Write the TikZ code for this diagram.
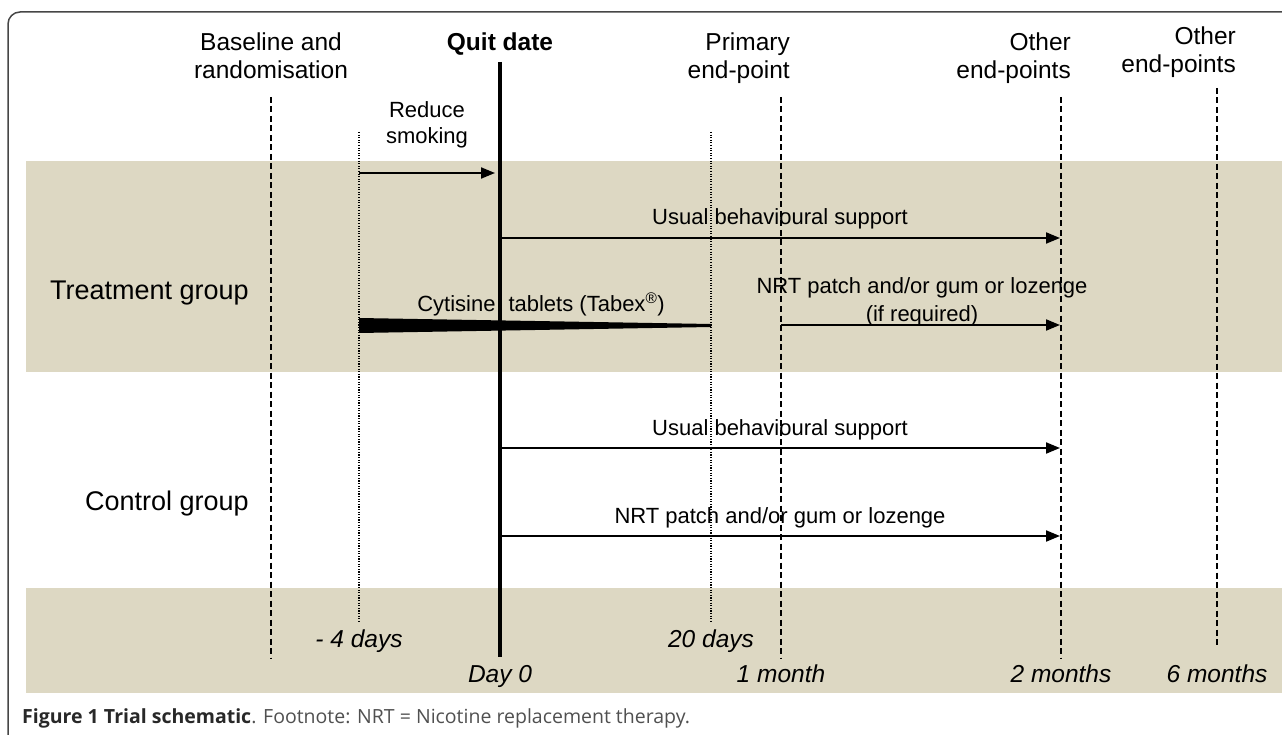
\documentclass[tikz,border=0pt]{standalone}
\usepackage{fontspec}
\setmainfont{Liberation Sans}
\newfontfamily\capfont{Open Sans}
\usetikzlibrary{arrows.meta}
\definecolor{bandcol}{RGB}{221,216,195}
\definecolor{framecol}{RGB}{70,70,70}
\definecolor{capdark}{RGB}{40,40,40}
\definecolor{capgray}{RGB}{80,80,80}
\begin{document}
\begin{tikzpicture}[x=1pt,y=-1pt,
  hdr/.style={font=\fontsize{24.5}{28}\selectfont, anchor=base, inner sep=0pt},
  hdrr/.style={font=\fontsize{24.5}{28}\selectfont, anchor=base east, inner sep=0pt},
  lbl/.style={font=\fontsize{22}{26}\selectfont, anchor=base, inner sep=0pt},
  grp/.style={font=\fontsize{27}{30}\selectfont, anchor=base east, inner sep=0pt},
  tick/.style={font=\fontsize{24.5}{28}\selectfont\itshape, anchor=base, inner sep=0pt},
  arr/.style={line width=2pt, -{Triangle[length=14pt,width=11pt]}},
  dashline/.style={line width=1.5pt, dash pattern=on 6pt off 3.5pt},
  dotline/.style={line width=1.1pt, dash pattern=on 1.1pt off 1.5pt},
  quitline/.style={line width=3.4pt}]
\useasboundingbox (0,0) rectangle (1282,735);
% frame
\draw[framecol, line width=1.5pt, rounded corners=12pt] (1295,12) -- (8,12) -- (8,750);
% bands
\fill[bandcol] (26,161) rectangle (1290,372);
\fill[bandcol] (26,588) rectangle (1290,693);
% coordinates of the time lines
\coordinate (bTop) at (271,97);   \coordinate (bBot) at (271,658);
\coordinate (mTop) at (359,132);  \coordinate (mBot) at (359,622);
\coordinate (qTop) at (500,62);   \coordinate (qBot) at (500,657);
\coordinate (tTop) at (711,132);  \coordinate (tBot) at (711,622);
\coordinate (pTop) at (781,97);   \coordinate (pBot) at (781,658);
\coordinate (oTop) at (1061,97);  \coordinate (oBot) at (1061,658);
\coordinate (sTop) at (1217,88);  \coordinate (sBot) at (1217,648);
\draw[dashline] (bTop) -- (bBot);
\draw[dotline] (mTop) -- (mBot);
\draw[dotline] (tTop) -- (tBot);
\draw[dashline] (pTop) -- (pBot);
\draw[dashline] (oTop) -- (oBot);
\draw[dashline] (sTop) -- (sBot);
\draw[quitline] (qTop) -- (qBot);
% arrows
\coordinate (rS) at (359,173);  \coordinate (rE) at (495,173);
\coordinate (u1S) at (500,238); \coordinate (u1E) at (1060,238);
\coordinate (n1S) at (781,325); \coordinate (n1E) at (1060,325);
\coordinate (u2S) at (500,448); \coordinate (u2E) at (1060,448);
\coordinate (n2S) at (500,536); \coordinate (n2E) at (1060,536);
\draw[arr] (rS) -- (rE);
\draw[arr] (u1S) -- (u1E);
\draw[arr] (n1S) -- (n1E);
\draw[arr] (u2S) -- (u2E);
\draw[arr] (n2S) -- (n2E);
% cytisine wedge
\coordinate (wA) at (359,318); \coordinate (wB) at (711,324);
\coordinate (wC) at (711,327); \coordinate (wD) at (359,333);
\fill[black] (wA) -- (wB) -- (wC) -- (wD) -- cycle;
% headers
\node[hdr] (base1) at (271,51) {Baseline and};
\node[hdr] (base2) at (271,79) {randomisation};
\node[hdr, font=\fontsize{24.5}{28}\selectfont\bfseries] (quit) at (500,51) {Quit date};
\node[hdrr] (prim1) at (790,51) {Primary};
\node[hdrr] (prim2) at (790,79) {end-point};
\node[hdrr] (oth1) at (1071,51) {Other};
\node[hdrr] (oth2) at (1071,79) {end-points};
\node[hdrr] (six1) at (1236,45) {Other};
\node[hdrr] (six2) at (1236,73) {end-points};
% arrow labels
\node[lbl] (red1) at (427,118) {Reduce};
\node[lbl] (red2) at (427,144) {smoking};
\node[lbl] (ubs1) at (780,225) {Usual behavioural support};
\node[lbl] (nrt1) at (922,294) {NRT patch and/or gum or lozenge};
\node[lbl] (nrt1b) at (922,321) {(if required)};
\node[lbl] (cyt) at (541,311) {Cytisine\hspace{13pt}tablets (Tabex\textsuperscript{®})};
\node[lbl] (ubs2) at (780,435) {Usual behavioural support};
\node[lbl] (nrt2) at (780,523) {NRT patch and/or gum or lozenge};
% groups
\node[grp] (treat) at (249,299) {Treatment group};
\node[grp] (ctrl) at (249,510) {Control group};
% time labels
\node[tick] (m4) at (359,647) {- 4 days};
\node[tick] (d20) at (711,647) {20 days};
\node[tick] (d0) at (500,682) {Day 0};
\node[tick] (mo1) at (781,682) {1 month};
\node[tick] (mo2) at (1061,682) {2 months};
\node[tick] (mo6) at (1217,682) {6 months};
% caption
\node[anchor=base west, inner sep=0pt, font=\capfont\fontsize{19.5}{22}\selectfont] (cap) at (22,723)
  {\textcolor{capdark}{\bfseries Figure 1 Trial schematic}\textcolor{capgray}{. Footnote: NRT = Nicotine replacement therapy.}};
\end{tikzpicture}
\end{document}
